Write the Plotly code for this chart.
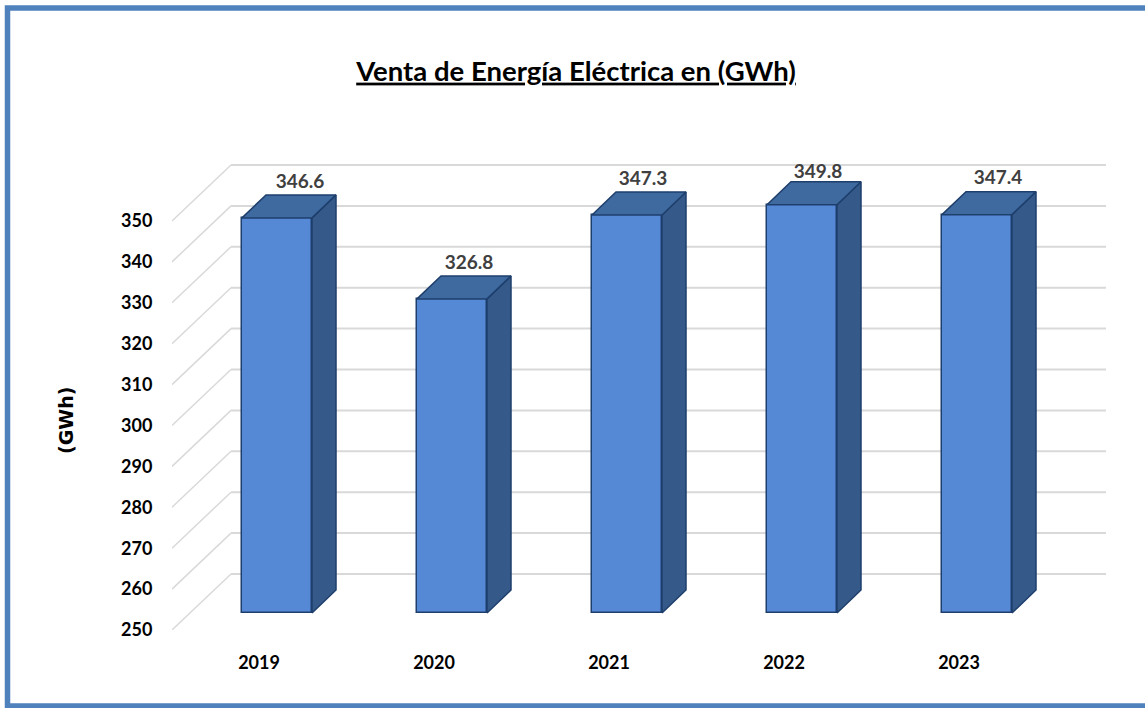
import plotly.graph_objects as go

# ---- data ----
years = ["2019", "2020", "2021", "2022", "2023"]
sales_gwh = [346.6, 326.8, 347.3, 349.8, 347.4]
y_ticks = [250, 260, 270, 280, 290, 300, 310, 320, 330, 340, 350]
title_text = "Venta de Energía Eléctrica en (GWh)"
y_title = "(GWh)"

# ---- page geometry ----
W, H = 1145, 708
M_L, M_R, M_T, M_B = 172, 35, 150, 78
PX_PER_X = 175
PX_PER_Y = 4.09
plot_w = W - M_L - M_R
plot_h = H - M_T - M_B
X_LO = -(277 - M_L) / PX_PER_X
X_HI = X_LO + plot_w / PX_PER_X
Y_LO = 250
Y_HI = Y_LO + plot_h / PX_PER_Y

# oblique projection: depth measured in px on the page, turned into data units
def dx(px): return px / PX_PER_X
def dy(px): return px / PX_PER_Y

WALL_DX, WALL_DY = 59, 56
GRID_RIGHT = (1106 - 277) / PX_PER_X
BAR_LIFT = 17
BAR_DX, BAR_DY = 24, 23
BAR_W = 70 / PX_PER_X
TICK_SHIFT = -18 / PX_PER_X
LABEL_DX = [23, 17, 16, 16, 21]
LABEL_DY = [12, 12, 12, 9, 12]

def px_x(p): return (p - M_L) / plot_w
def px_y(p): return 1 - (p - M_T) / plot_h

FRONT = "#5589D6"
SIDE = "#355A8A"
TOP = "#3E6AA0"
EDGE = "#1E3F6C"
GRID = "#D9D9D9"
BORDER = "#4F81BD"
FONT = "Lato, sans-serif"

positions = list(range(len(years)))
base = Y_LO + dy(BAR_LIFT)

fig = go.Figure()

# front faces
fig.add_trace(go.Bar(
    x=positions, y=[v - Y_LO for v in sales_gwh], base=base, width=BAR_W,
    marker=dict(color=FRONT, line=dict(color=EDGE, width=1.5)),
    showlegend=False, hoverinfo="skip",
))

# side and top faces, projected from the values
for p, v in zip(positions, sales_gwh):
    top = base + v - Y_LO
    xl, xr = p - BAR_W / 2, p + BAR_W / 2
    fig.add_trace(go.Scatter(
        x=[xr, xr + dx(BAR_DX), xr + dx(BAR_DX), xr, xr],
        y=[base, base + dy(BAR_DY), top + dy(BAR_DY), top, base],
        mode="lines", fill="toself", fillcolor=SIDE,
        line=dict(color=EDGE, width=1.5), showlegend=False, hoverinfo="skip",
    ))
    fig.add_trace(go.Scatter(
        x=[xl, xl + dx(BAR_DX), xr + dx(BAR_DX), xr, xl],
        y=[top, top + dy(BAR_DY), top + dy(BAR_DY), top, top],
        mode="lines", fill="toself", fillcolor=TOP,
        line=dict(color=EDGE, width=1.5), showlegend=False, hoverinfo="skip",
    ))

# value labels
fig.add_trace(go.Scatter(
    x=[p + dx(d) for p, d in zip(positions, LABEL_DX)],
    y=[base + v - Y_LO + dy(BAR_DY) + dy(d) for v, d in zip(sales_gwh, LABEL_DY)],
    mode="text", text=[f"{v:.1f}" for v in sales_gwh], textposition="middle center",
    textfont=dict(family=FONT, size=19, color="#404040", weight="bold"),
    showlegend=False, hoverinfo="skip", cliponaxis=False,
))

# walls: gridlines drawn beneath the bars
shapes = []
for t in y_ticks:
    bx, by = X_LO + dx(WALL_DX), t + dy(WALL_DY)
    shapes.append(dict(type="line", xref="x", yref="y", x0=X_LO, y0=t, x1=bx, y1=by,
                       line=dict(color=GRID, width=1.5), layer="below"))
    shapes.append(dict(type="line", xref="x", yref="y", x0=bx, y0=by, x1=GRID_RIGHT, y1=by,
                       line=dict(color=GRID, width=2), layer="below"))

# picture frame (open on the right edge, as in the reference)
shapes.append(dict(type="rect", xref="paper", yref="paper",
                   x0=px_x(7.5), x1=px_x(W + 20), y0=px_y(8), y1=px_y(706),
                   line=dict(color=BORDER, width=5.5), fillcolor="rgba(0,0,0,0)", layer="above"))

fig.update_layout(
    width=W, height=H, autosize=False,
    margin=dict(l=M_L, r=M_R, t=M_T, b=M_B),
    paper_bgcolor="white", plot_bgcolor="white",
    showlegend=False, shapes=shapes, bargap=0,
    title=dict(
        text=f"<u>{title_text}</u>", x=576 / W, y=1 - 71 / H,
        xanchor="center", yanchor="middle",
        font=dict(family=FONT, size=27.5, color="black", weight="bold"),
    ),
    annotations=[dict(
        text=y_title, xref="paper", yref="paper", x=px_x(66), y=px_y(421),
        showarrow=False, textangle=-90, xanchor="center", yanchor="middle",
        font=dict(family="DejaVu Sans, sans-serif", size=19, color="black", weight="bold"),
    )],
    xaxis=dict(
        range=[X_LO, X_HI], tickmode="array",
        tickvals=[p + TICK_SHIFT for p in positions], ticktext=years,
        showgrid=False, zeroline=False, showline=False,
        ticks="outside", ticklen=16, tickcolor="rgba(0,0,0,0)",
        tickfont=dict(family=FONT, size=18, color="black", weight="bold"),
    ),
    yaxis=dict(
        range=[Y_LO, Y_HI], tickmode="array", tickvals=y_ticks,
        showgrid=False, zeroline=False, showline=False,
        ticks="outside", ticklen=15, tickcolor="rgba(0,0,0,0)",
        tickfont=dict(family=FONT, size=18, color="black", weight="bold"),
    ),
)

fig.write_html(
    "out.html",
    config={"displayModeBar": False},
    post_script="document.body.style.margin='0';document.body.style.overflow='hidden';",
)
